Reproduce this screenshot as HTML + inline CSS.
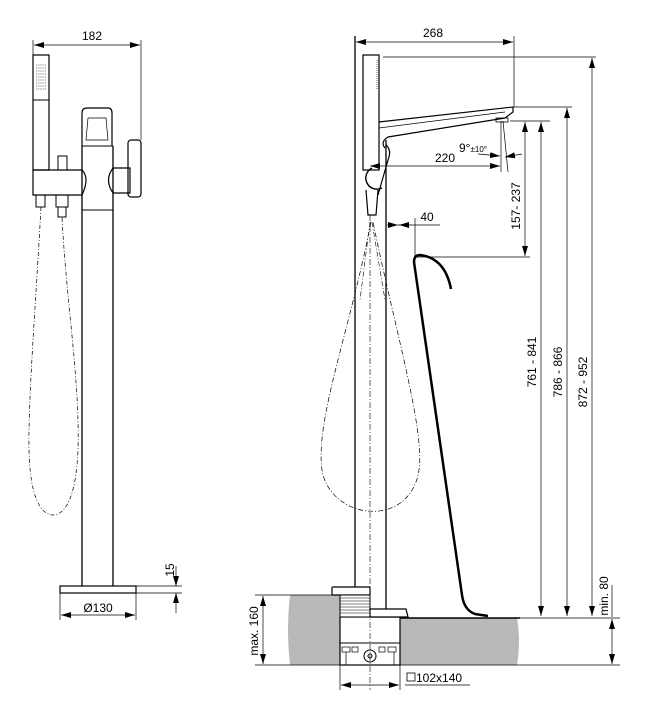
<!DOCTYPE html>
<html><head><meta charset="utf-8"><style>
body{margin:0;background:#fff}
svg{display:block}
text{font-family:"Liberation Sans",sans-serif;font-size:12px;fill:#000}
</style></head><body>
<svg width="647" height="720" viewBox="0 0 647 720" xmlns="http://www.w3.org/2000/svg">
<defs>
<marker id="a" viewBox="0 0 10 6" refX="10" refY="3" markerWidth="10" markerHeight="6" orient="auto-start-reverse" markerUnits="userSpaceOnUse"><path d="M0,0L10,3L0,6z" fill="#000"/></marker>
</defs>
<g fill="none" stroke="#000" stroke-width="1">
<!-- LEFT VIEW -->
<line x1="33" y1="40" x2="33" y2="56" stroke-width="0.7"/>
<line x1="141" y1="40" x2="141" y2="140" stroke-width="0.7"/>
<line x1="34" y1="45" x2="140" y2="45" marker-start="url(#a)" marker-end="url(#a)" stroke-width="0.7"/>
<rect x="33" y="55" width="16" height="115" stroke-width="1.2"/>
<line x1="33" y1="100" x2="49" y2="100"/>
<g stroke-width="0.6" stroke-dasharray="1.2 1">
<line x1="36" y1="65" x2="46" y2="65"/><line x1="36" y1="68" x2="46" y2="68"/><line x1="36" y1="71" x2="46" y2="71"/><line x1="36" y1="74" x2="46" y2="74"/><line x1="36" y1="77" x2="46" y2="77"/><line x1="36" y1="80" x2="46" y2="80"/><line x1="36" y1="83" x2="46" y2="83"/><line x1="36" y1="86" x2="46" y2="86"/><line x1="36" y1="89" x2="46" y2="89"/>
</g>
<path d="M82,146 L82,113 Q82,108 87,108 L108,108 Q112,108 112,113 L112,146" stroke-width="1.2"/>
<path d="M88,118 L106,118 L108,140 L86,140z" stroke-width="0.7"/>
<line x1="82" y1="146" x2="113" y2="146"/>
<path d="M33,170 L82,170 Q90,178 82,195 L33,195 z" stroke-width="1.2"/>
<path d="M113,168 Q104,180 113,193 L130,193 L130,168z" stroke-width="1.2"/>
<rect x="128" y="140" width="13" height="57" rx="3" stroke-width="1.2"/>
<rect x="58" y="156" width="9" height="14"/>
<line x1="82" y1="146" x2="82" y2="586" stroke-width="1.3"/>
<line x1="113" y1="146" x2="113" y2="586" stroke-width="1.3"/>
<line x1="82" y1="210" x2="113" y2="210"/>
<rect x="36" y="195" width="9" height="12"/>
<rect x="56" y="195" width="12" height="12"/><rect x="58" y="207" width="8" height="10"/>
<path d="M41,207 C36,300 28,400 29,450 C30,500 42,515 53,515 C64,515 76,500 78,450 C80,380 66,300 62,217" stroke-width="0.7" stroke-dasharray="4 2 1 2"/>
<rect x="60" y="586" width="76" height="7" stroke-width="1.2"/>
<line x1="136" y1="586" x2="182" y2="586" stroke-width="0.7"/>
<line x1="136" y1="593" x2="182" y2="593" stroke-width="0.7"/>
<line x1="176" y1="566" x2="176" y2="586" marker-end="url(#a)" stroke-width="0.7"/>
<line x1="176" y1="613" x2="176" y2="593" marker-end="url(#a)" stroke-width="0.7"/>
<line x1="60" y1="593" x2="60" y2="620" stroke-width="0.7"/>
<line x1="136" y1="593" x2="136" y2="620" stroke-width="0.7"/>
<line x1="61" y1="615" x2="135" y2="615" marker-start="url(#a)" marker-end="url(#a)" stroke-width="0.7"/>

<!-- RIGHT VIEW: floor -->
<path d="M290,595 L340,595 L340,665 L290,665 Q286,630 290,595z" fill="#b9b9b9" stroke="none"/>
<path d="M400,618 L517,618 Q521,640 517,665 L400,665z" fill="#b9b9b9" stroke="none"/>
<line x1="255" y1="595" x2="340" y2="595" stroke-width="0.7"/>
<line x1="400" y1="618" x2="520" y2="618" stroke-width="1.5"/>
<line x1="520" y1="618" x2="620" y2="618" stroke-width="0.7"/>
<line x1="255" y1="665" x2="620" y2="665" stroke-width="0.7"/>
<line x1="263" y1="596" x2="263" y2="664" marker-start="url(#a)" marker-end="url(#a)" stroke-width="0.7"/>
<!-- box -->
<rect x="340" y="617" width="60" height="48" fill="#fff" stroke-width="1.2"/>
<line x1="340" y1="643" x2="400" y2="643"/>
<g stroke-width="0.7">
<rect x="342" y="647" width="8" height="5"/><rect x="352" y="647" width="6" height="5"/><rect x="379" y="647" width="6" height="5"/><rect x="388" y="647" width="8" height="5"/>
<line x1="346" y1="652" x2="346" y2="665"/><line x1="394" y1="652" x2="394" y2="665"/>
</g>
<circle cx="370" cy="656" r="6"/><circle cx="370" cy="656" r="2"/>
<rect x="332" y="587" width="38" height="8" rx="1" fill="#fff" stroke-width="1.2"/>
<rect x="340" y="595" width="30" height="22" fill="#fff"/>
<g stroke-width="0.6"><line x1="340" y1="598" x2="370" y2="598"/><line x1="340" y1="601" x2="370" y2="601"/><line x1="340" y1="604" x2="370" y2="604"/><line x1="340" y1="607" x2="370" y2="607"/><line x1="340" y1="610" x2="370" y2="610"/><line x1="340" y1="613" x2="370" y2="613"/></g>
<path d="M370,609 L406,609 L408,617 L370,617z" fill="#fff" stroke-width="1.2"/>
<line x1="340" y1="665" x2="340" y2="690" stroke-width="0.7"/>
<line x1="400" y1="665" x2="400" y2="690" stroke-width="0.7"/>
<line x1="341" y1="685" x2="399" y2="685" marker-start="url(#a)" marker-end="url(#a)" stroke-width="0.7"/>
<line x1="405" y1="685" x2="470" y2="685" stroke-width="0.7"/>
<rect x="407" y="673" width="8" height="8" stroke-width="0.8"/>
<!-- pipe -->
<line x1="355" y1="36" x2="355" y2="587" stroke-width="1.3"/>
<line x1="386" y1="140" x2="386" y2="609" stroke-width="1.3"/>
<line x1="370" y1="215" x2="370" y2="690" stroke-width="0.6" stroke-dasharray="6 2 1 2"/>
<!-- hand shower -->
<rect x="363" y="55" width="16" height="115" stroke-width="1.2"/>
<line x1="377" y1="60" x2="377" y2="90" stroke-width="0.6" stroke-dasharray="1 1"/>
<!-- spout -->
<path d="M379,122 L513,107 L513,112 L505,118 L388,137 Q380,142 385,148" stroke-width="1.2"/>
<path d="M379,128 L505,112" stroke-width="0.7"/>
<rect x="496" y="118" width="12" height="4" stroke-width="0.8"/>
<path d="M386,145 Q392,150 388,160 L378,195" stroke-width="1.2"/>
<path d="M372,168 A11,11 0 1 0 382,188" stroke-width="1.4"/>
<path d="M366,190 L368,215 L376,215 L378,190" stroke-width="1.2"/>
<path d="M370,222 L360,300 M372,222 L385,300" stroke-width="0.6" stroke-dasharray="5 2 1 2"/>
<path d="M371,222 C350,330 315,420 322,470 C330,520 410,530 419,470 C425,430 395,330 373,222" stroke-width="0.7" stroke-dasharray="5 2 1 2"/>
<!-- bath spout -->
<path d="M414,262 Q414,255 420,255 Q445,258 451,289" stroke-width="2.5"/>
<path d="M414,262 L462,595 Q464,610 475,614 L488,616" stroke-width="2.5"/>
<!-- dims right -->
<line x1="356" y1="42" x2="513" y2="42" marker-start="url(#a)" marker-end="url(#a)" stroke-width="0.7"/>
<line x1="514" y1="36" x2="514" y2="107" stroke-width="0.7"/>
<line x1="383" y1="57" x2="596" y2="57" stroke-width="0.7"/>
<line x1="514" y1="107" x2="572" y2="107" stroke-width="0.7"/>
<line x1="510" y1="121" x2="550" y2="121" stroke-width="0.7"/>
<line x1="592" y1="58" x2="592" y2="616" marker-start="url(#a)" marker-end="url(#a)" stroke-width="0.7"/>
<line x1="567" y1="108" x2="567" y2="616" marker-start="url(#a)" marker-end="url(#a)" stroke-width="0.7"/>
<line x1="541" y1="122" x2="541" y2="616" marker-start="url(#a)" marker-end="url(#a)" stroke-width="0.7"/>
<line x1="525" y1="122" x2="525" y2="256" marker-start="url(#a)" marker-end="url(#a)" stroke-width="0.7"/>
<line x1="415" y1="257" x2="530" y2="257" stroke-width="0.7"/>
<line x1="370" y1="166" x2="390" y2="166" marker-start="url(#a)" stroke-width="0.7"/>
<line x1="390" y1="166" x2="500" y2="166" marker-end="url(#a)" stroke-width="0.7"/>
<line x1="501" y1="121" x2="501" y2="172" stroke-width="0.7"/>
<line x1="503" y1="121" x2="508" y2="172" stroke-width="0.7"/>
<line x1="478" y1="154" x2="500" y2="156" marker-end="url(#a)" stroke-width="0.7"/>
<line x1="522" y1="154" x2="505" y2="157" marker-end="url(#a)" stroke-width="0.7"/>
<line x1="387" y1="225" x2="398" y2="225" marker-end="url(#a)" stroke-width="0.7"/>
<line x1="410" y1="225" x2="399" y2="225" marker-end="url(#a)" stroke-width="0.7"/>
<line x1="398" y1="225" x2="440" y2="225" stroke-width="0.7"/>
<line x1="415" y1="218" x2="415" y2="258" stroke-width="0.7"/>
<line x1="612" y1="585" x2="612" y2="617" stroke-width="0.7"/>
<line x1="612" y1="619" x2="612" y2="664" marker-start="url(#a)" marker-end="url(#a)" stroke-width="0.7"/>
</g>
<text x="92" y="40" text-anchor="middle">182</text>
<text x="98" y="612" text-anchor="middle">Ø130</text>
<text transform="translate(174,570) rotate(-90)" text-anchor="middle">15</text>
<text x="433" y="37" text-anchor="middle">268</text>
<text x="445" y="162" text-anchor="middle">220</text>
<text x="459" y="152" font-size="11">9°<tspan font-size="8">±10°</tspan></text>
<text x="427" y="221" text-anchor="middle">40</text>
<text transform="translate(520,206) rotate(-90)" text-anchor="middle">157- 237</text>
<text transform="translate(536,362) rotate(-90)" text-anchor="middle">761 - 841</text>
<text transform="translate(562,372) rotate(-90)" text-anchor="middle">786 - 866</text>
<text transform="translate(587,382) rotate(-90)" text-anchor="middle">872 - 952</text>
<text transform="translate(608,596) rotate(-90)" text-anchor="middle">min. 80</text>
<text transform="translate(258,631) rotate(-90)" text-anchor="middle">max. 160</text>
<text x="416" y="682">102x140</text>
</svg>
</body></html>
